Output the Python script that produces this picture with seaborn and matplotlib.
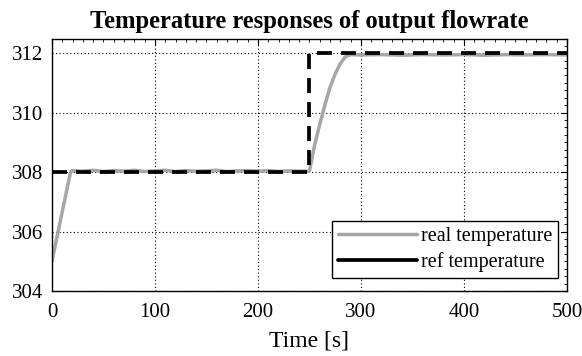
import matplotlib
matplotlib.use("Agg")
import matplotlib.pyplot as plt
import seaborn as sns
import pandas as pd
from matplotlib.ticker import MultipleLocator

# ---- data ----
time_real = [0, 18, 20, 30, 40, 50, 60, 70, 80, 90, 100, 110, 120, 130, 140, 150,
             160, 170, 180, 190, 200, 210, 220, 230, 240, 250, 255, 260, 265, 270,
             275, 280, 285, 290, 300, 320, 340, 360, 380, 400, 420, 440, 460, 480, 500]
temp_real = [305.0, 308.0, 308.05, 308.03, 308.06, 308.02, 308.05, 308.03, 308.06, 308.02,
             308.04, 308.06, 308.02, 308.05, 308.03, 308.04, 308.06, 308.02, 308.04, 308.05,
             308.03, 308.05, 308.02, 308.04, 308.03, 308.03, 308.9, 309.6, 310.25, 310.85,
             311.3, 311.65, 311.88, 311.95, 311.94, 311.95, 311.93, 311.95, 311.94, 311.95,
             311.93, 311.95, 311.94, 311.95, 311.94]
time_ref = [0, 250, 250, 500]
temp_ref = [308, 308, 312, 312]

labels = ["real temperature", "ref temperature"]
title = "Temperature responses of output flowrate"
xlabel = "Time [s]"

df_real = pd.DataFrame({"t": time_real, "T": temp_real})
df_ref = pd.DataFrame({"t": time_ref, "T": temp_ref})

sns.set_theme(style="white")
plt.rcParams["font.family"] = ["Liberation Serif", "DejaVu Serif"]
plt.rcParams["text.color"] = "black"
plt.rcParams["axes.labelcolor"] = "black"
plt.rcParams["xtick.color"] = "black"
plt.rcParams["ytick.color"] = "black"

fig = plt.figure(figsize=(5.82, 3.56), dpi=100)
ax = fig.add_axes([0.0893, 0.1826, 0.8847, 0.7074])

sns.lineplot(data=df_real, x="t", y="T", ax=ax, color="#a6a6a6", linewidth=2.5,
             label=labels[0], sort=False, estimator=None)
sns.lineplot(data=df_ref, x="t", y="T", ax=ax, color="black", linewidth=2.7,
             label=labels[1], sort=False, estimator=None)
ax.lines[1].set_dashes((4.0, 2.4))

ax.set_xlim(0, 500)
ax.set_ylim(304, 312.47)
ax.set_xticks([0, 100, 200, 300, 400, 500])
ax.set_yticks([304, 306, 308, 310, 312])
ax.xaxis.set_minor_locator(MultipleLocator(10))
ax.yaxis.set_minor_locator(MultipleLocator(0.25))
ax.tick_params(which="both", direction="in", top=True, right=True, colors="black",
               labelcolor="black", labelsize=15)
ax.tick_params(which="major", length=4, width=0.8)
ax.tick_params(which="minor", length=2, width=0.6)
ax.tick_params(axis="x", pad=9)
ax.tick_params(axis="y", pad=6)

ax.grid(True, which="major", linestyle=(0, (1, 2.2)), color="black", linewidth=0.8)
for s in ax.spines.values():
    s.set_color("black")
    s.set_linewidth(1.0)

ax.set_title(title, fontsize=17.7, fontweight="bold", pad=8, color="black")
ax.set_xlabel(xlabel, fontsize=17, labelpad=6, color="black")
ax.set_ylabel("")

leg = ax.legend(loc="lower right", bbox_to_anchor=(0.983, 0.05), fontsize=14.5,
                frameon=True, fancybox=False,
                edgecolor="black", framealpha=1, handlelength=3.9, handletextpad=0.2,
                borderpad=0.3, labelspacing=0.33, borderaxespad=0.0)
leg.get_frame().set_linewidth(1.0)
leg.get_lines()[1].set_linestyle("-")
leg.get_lines()[0].set_linestyle("-")
for t in leg.get_texts():
    t.set_color("black")

fig.savefig("out.png", dpi=100)
